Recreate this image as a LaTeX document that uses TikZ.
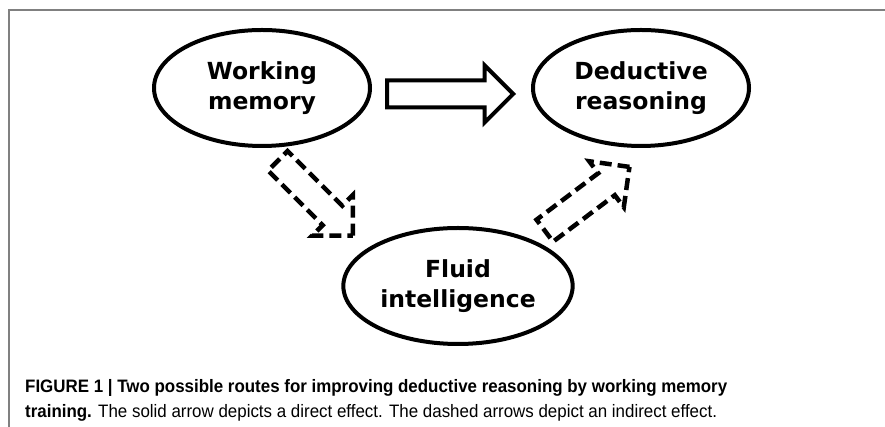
\documentclass[tikz,border=0pt]{standalone}
\usepackage{fontspec}
\setmainfont{Liberation Sans}
\newfontfamily\boxfont{DejaVu Sans}
\newfontfamily\capfont[FakeStretch=0.94]{Liberation Sans}
\usetikzlibrary{shapes.geometric,shapes.arrows}
\definecolor{framegray}{gray}{0.5}

\begin{document}
\begin{tikzpicture}[x=1pt,y=1pt,
  factor/.style={ellipse, draw, line width=4pt, minimum width=216pt, minimum height=116pt,
    align=center, font=\boxfont\bfseries\fontsize{23.5}{30}\selectfont},
  route/.style={single arrow, draw, line width=4pt, inner sep=11.5pt,
    single arrow head extend=15pt, minimum height=106pt, anchor=tip},
  indirect/.style={route, line width=4.5pt, dash pattern=on 12pt off 6pt},
  caption/.style={anchor=base west, inner sep=0pt, font=\capfont\fontsize{18}{25}\selectfont}]
\useasboundingbox (0,0) rectangle (885,427);
\draw[framegray, line width=1.5pt] (9,0) -- (9,417) -- (885,417);
\node[factor] (wm) at (262,339) {Working\\memory};
\node[factor] (dr) at (641,339) {Deductive\\reasoning};
\node[factor] (fi) at (458,141) {Fluid\\intelligence};
% direct route
\node[route, minimum height=126pt] (direct) at (516,333) {};
% indirect route via fluid intelligence
\node[indirect, rotate=-45] (wmfi) at (355,189) {};
\node[indirect, rotate=37] (fidr) at (632,262) {};
\node[caption] (cap) at (25,34) {\bfseries FIGURE 1 | Two possible routes for improving deductive reasoning by working memory};
\node[caption] (capb) at (25,9) {\textbf{training.} The solid arrow depicts a direct effect. The dashed arrows depict an indirect effect.};
\end{tikzpicture}
\end{document}
